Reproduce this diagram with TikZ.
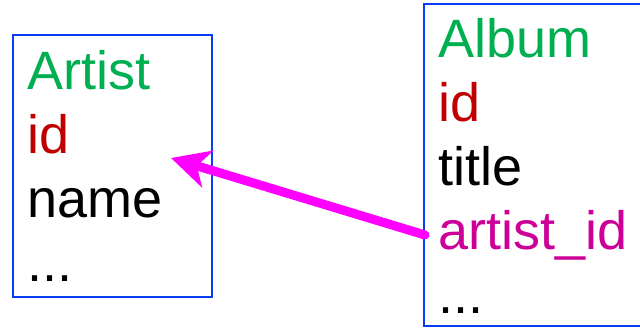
\documentclass[tikz,border=0pt]{standalone}
\usepackage{fontspec}
\setmainfont{Liberation Sans}
\usetikzlibrary{arrows.meta}
\definecolor{boxblue}{RGB}{10,60,245}
\definecolor{tgreen}{RGB}{0,176,80}
\definecolor{tred}{RGB}{192,0,0}
\definecolor{tmag}{RGB}{204,0,153}
\definecolor{arrmag}{RGB}{255,0,255}
\begin{document}
\begin{tikzpicture}[x=1pt,y=-1pt,
  tbl/.style={draw=boxblue, line width=2pt, inner sep=0pt},
  fld/.style={anchor=base west, inner sep=0pt, font=\fontsize{54}{64}\selectfont},
  fk/.style={draw=arrmag, line width=9pt, line cap=round,
    -{Stealth[length=38pt,width=38pt,inset=11pt]}}]
\useasboundingbox (0,0) rectangle (640,328);
\node[tbl, minimum width=199pt, minimum height=262pt] (artist) at (112.5,166) {};
\node[tbl, minimum width=230pt, minimum height=322pt] (album) at (539,165.5) {};
\node[fld, text=tgreen] (aname) at (27,90) {Artist};
\node[fld, text=tred] (aid) at (27,154) {id};
\node[fld] (aname2) at (27,218) {name};
\node[fld] (adots) at (27,282) {...};
\node[fld, text=tgreen] (bname) at (438,58) {Album};
\node[fld, text=tred] (bid) at (438,122) {id};
\node[fld] (btitle) at (438,186) {title};
\node[fld, text=tmag] (bfk) at (438,250) {artist\_id};
\node[fld] (bdots) at (438,314) {...};
\coordinate (fkstart) at (425,235);
\coordinate (fkend) at (171,158);
\draw[fk] (fkstart) -- (fkend);
\end{tikzpicture}
\end{document}
